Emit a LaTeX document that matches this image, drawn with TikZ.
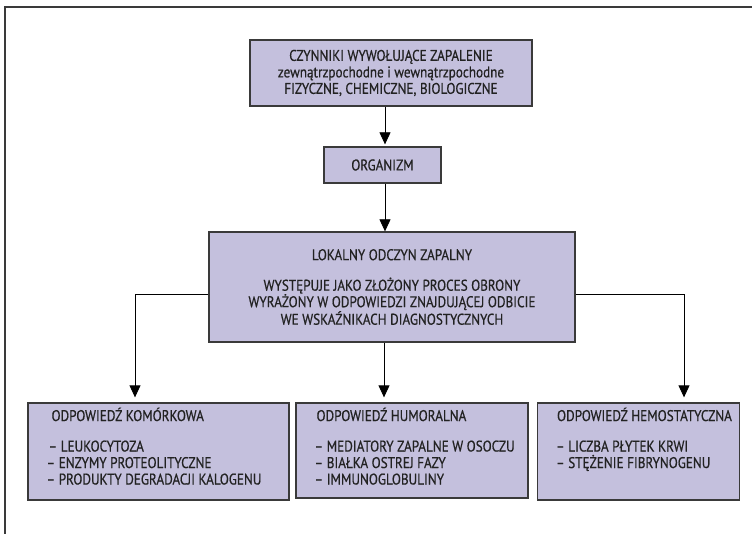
\documentclass[tikz,border=0pt]{standalone}
\usepackage{fontspec}
\setmainfont{PT Sans}[FakeStretch=0.85, FakeBold=0.6]
\usetikzlibrary{arrows.meta}
\definecolor{boxfill}{HTML}{C4C0DD}
\definecolor{boxline}{HTML}{3A3A3A}
\definecolor{txt}{HTML}{222222}
\tikzset{
  box/.style={draw=boxline, line width=1.3pt, fill=boxfill, inner sep=0pt, text=txt, align=center},
  boxtext/.style={inner sep=0pt, text=txt, align=left, anchor=north west},
  arr/.style={-{Triangle[width=11pt,length=12pt]}, line width=0.8pt, black},
  frame/.style={line width=1.5pt, draw=boxline}
}
\begin{document}
\begin{tikzpicture}[x=1pt,y=-1pt, font=\fontsize{15.5}{16.5}\selectfont]
\useasboundingbox (0,0) rectangle (752,534);
\draw[frame] (5,534) -- (5,7) -- (752,7);

\node[box, minimum width=282pt, minimum height=66pt] (top) at (391,73)
  {CZYNNIKI WYWOŁUJĄCE ZAPALENIE\\zewnątrzpochodne i wewnątrzpochodne\\FIZYCZNE, CHEMICZNE, BIOLOGICZNE};
\node[box, minimum width=117pt, minimum height=36pt] (org) at (382.5,165) {ORGANIZM};
\node[box, minimum width=366pt, minimum height=110pt] (big) at (392,287)
  {LOKALNY ODCZYN ZAPALNY\\[14pt]WYSTĘPUJE JAKO ZŁOŻONY PROCES OBRONY\\WYRAŻONY W ODPOWIEDZI ZNAJDUJĄCEJ ODBICIE\\WE WSKAŹNIKACH DIAGNOSTYCZNYCH};

\node[box, minimum width=261pt, minimum height=97pt] (kom) at (158.5,451.5) {};
\node[box, minimum width=232pt, minimum height=95pt] (hum) at (412,450.5) {};
\node[box, minimum width=202pt, minimum height=97pt] (hem) at (638.5,451.5) {};

\node[boxtext] (komt) at ([xshift=19pt,yshift=-5pt]kom.north west)
  {\hspace{5pt}ODPOWIEDŹ KOMÓRKOWA\\[14pt]\hspace{2pt}– LEUKOCYTOZA\\– ENZYMY PROTEOLITYCZNE\\– PRODUKTY DEGRADACJI KALOGENU};
\node[boxtext] (humt) at ([xshift=19pt,yshift=-5pt]hum.north west)
  {\hspace{2pt}ODPOWIEDŹ HUMORALNA\\[14pt]– MEDIATORY ZAPALNE W OSOCZU\\– BIAŁKA OSTREJ FAZY\\– IMMUNOGLOBULINY};
\node[boxtext] (hemt) at ([xshift=19pt,yshift=-5pt]hem.north west)
  {\hspace{1pt}ODPOWIEDŹ HEMOSTATYCZNA\\[14pt]– LICZBA PŁYTEK KRWI\\– STĘŻENIE FIBRYNOGENU};

\coordinate (lk) at ([yshift=5pt]kom.north -| 135,0);
\coordinate (rk) at ([yshift=5pt]hem.north -| 684,0);
\coordinate (bl) at ([yshift=-7pt]big.west);
\coordinate (br) at ([yshift=-7pt]big.east);

\draw[arr] (top.south -| 385,0) -- ([yshift=2pt]org.north -| 385,0);
\draw[arr] (org.south -| 385,0) -- (big.north -| 385,0);
\draw[arr] (bl) -| (lk);
\draw[arr] (br) -| (rk);
\draw[arr] (big.south -| 384,0) -- ([yshift=5pt]hum.north -| 384,0);
\end{tikzpicture}
\end{document}
